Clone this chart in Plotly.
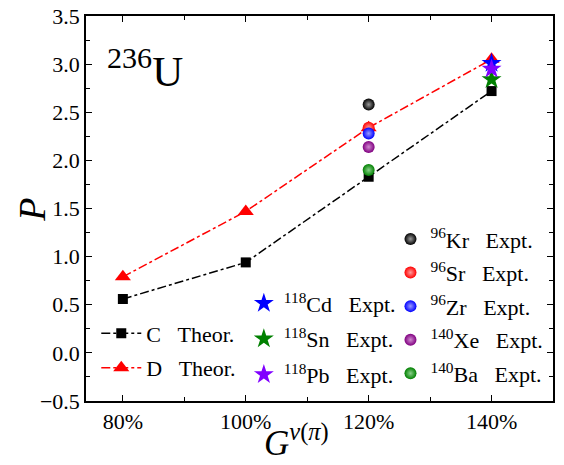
import plotly.graph_objects as go

x_theor = [80, 100, 120, 140]
C_theor = [0.56, 0.94, 1.83, 2.72]
D_theor = [0.79, 1.47, 2.34, 3.05]

NB = "\u00a0"
star_x = 140
star_names = ["<sup>118</sup>Cd" + NB * 3 + "Expt.", "<sup>118</sup>Sn" + NB * 3 + "Expt.",
              "<sup>118</sup>Pb" + NB * 3 + "Expt."]
star_vals = [3.01, 2.84, 2.95]
star_colors = ["#0000ff", "#008000", "#8000ff"]

ball_x = 120
ball_names = ["<sup>96</sup>Kr" + NB * 3 + "Expt.", "<sup>96</sup>Sr" + NB * 3 + "Expt.",
              "<sup>96</sup>Zr" + NB * 3 + "Expt.", "<sup>140</sup>Xe" + NB * 3 + "Expt.",
              "<sup>140</sup>Ba" + NB * 3 + "Expt."]
ball_vals = [2.58, 2.34, 2.28, 2.14, 1.90]
ball_colors = ["#000000", "#ff0000", "#0000ff", "#800080", "#008000"]
ball_highlights = ["#9a9a9a", "#ff9a9a", "#9a9aff", "#d08ad0", "#8ad08a"]

xtick_vals = [80, 100, 120, 140]
xtick_text = ["80%", "100%", "120%", "140%"]

FONT = "Liberation Serif"

fig = go.Figure()

fig.add_trace(go.Scatter(x=x_theor, y=C_theor, mode="lines+markers", name="C" + NB * 3 + "Theor.",
                         line=dict(color="black", width=1.5, dash="dashdot"),
                         marker=dict(symbol="square", size=10, color="black"),
                         legend="legend", legendgroup="c"))
fig.add_trace(go.Scatter(x=x_theor, y=D_theor, mode="lines+markers", name="D" + NB * 3 + "Theor.",
                         line=dict(color="red", width=1.5, dash="dashdot"),
                         marker=dict(symbol="triangle-up", size=14, color="red"),
                         legend="legend", legendgroup="d"))

for i, (n, v, c) in enumerate(zip(star_names, star_vals, star_colors)):
    fig.add_trace(go.Scatter(x=[star_x], y=[v], mode="markers", name=n,
                             marker=dict(symbol="star", size=15, color=c, line=dict(width=0)),
                             legend="legend2", legendgroup="s%d" % i))

for i, (n, v, c, h) in enumerate(zip(ball_names, ball_vals, ball_colors, ball_highlights)):
    fig.add_trace(go.Scatter(x=[ball_x], y=[v], mode="markers", name=n,
                             marker=dict(symbol="circle", size=12, color=c, line=dict(width=0),
                                         gradient=dict(type="radial", color=h)),
                             legend="legend3", legendgroup="b%d" % i))

axis_common = dict(showline=True, linecolor="black", linewidth=1.5, mirror="ticks",
                   ticks="inside", ticklen=6, tickwidth=1.2, tickcolor="black",
                   showgrid=False, zeroline=False, automargin=False,
                   tickfont=dict(family=FONT, size=22, color="black"))

fig.update_xaxes(range=[74, 150], tickvals=xtick_vals, ticktext=xtick_text,
                 minor=dict(dtick=10, tick0=0, ticks="inside", ticklen=4, tickcolor="black"),
                 **axis_common)
fig.update_yaxes(range=[-0.5, 3.5], dtick=0.5, tickformat=".1f",
                 minor=dict(dtick=0.25, ticks="inside", ticklen=4, tickcolor="black"),
                 **axis_common)

leg_font = dict(family=FONT, size=22, color="black")
fig.update_layout(
    width=564, height=465,
    margin=dict(l=86, r=11, t=16, b=64),
    plot_bgcolor="white", paper_bgcolor="white",
    legend=dict(x=0.022, y=0.23, xanchor="left", yanchor="top", bgcolor="rgba(0,0,0,0)",
                font=leg_font, tracegroupgap=3, itemwidth=40),
    legend2=dict(x=0.338, y=0.308, xanchor="left", yanchor="top", bgcolor="rgba(0,0,0,0)",
                 font=leg_font, tracegroupgap=4, itemwidth=30),
    legend3=dict(x=0.652, y=0.475, xanchor="left", yanchor="top", bgcolor="rgba(0,0,0,0)",
                 font=leg_font, tracegroupgap=2, itemwidth=30),
    annotations=[
        dict(text="<sup>236</sup>U", x=0.04, y=0.94, xref="paper", yref="paper",
             xanchor="left", yanchor="top", showarrow=False,
             font=dict(family=FONT, size=43, color="black")),
        dict(text="<i>G</i><sup><i>ν</i>(<i>π</i>)</sup>", x=0.45, y=-0.165, xref="paper", yref="paper",
             xanchor="center", yanchor="bottom", showarrow=False,
             font=dict(family=FONT, size=35, color="black")),
        dict(text="<i>P</i>", x=-0.116, y=0.496, xref="paper", yref="paper",
             xanchor="center", yanchor="middle", showarrow=False, textangle=-90,
             font=dict(family=FONT, size=38, color="black")),
    ],
)

fig.write_html("out.html")
